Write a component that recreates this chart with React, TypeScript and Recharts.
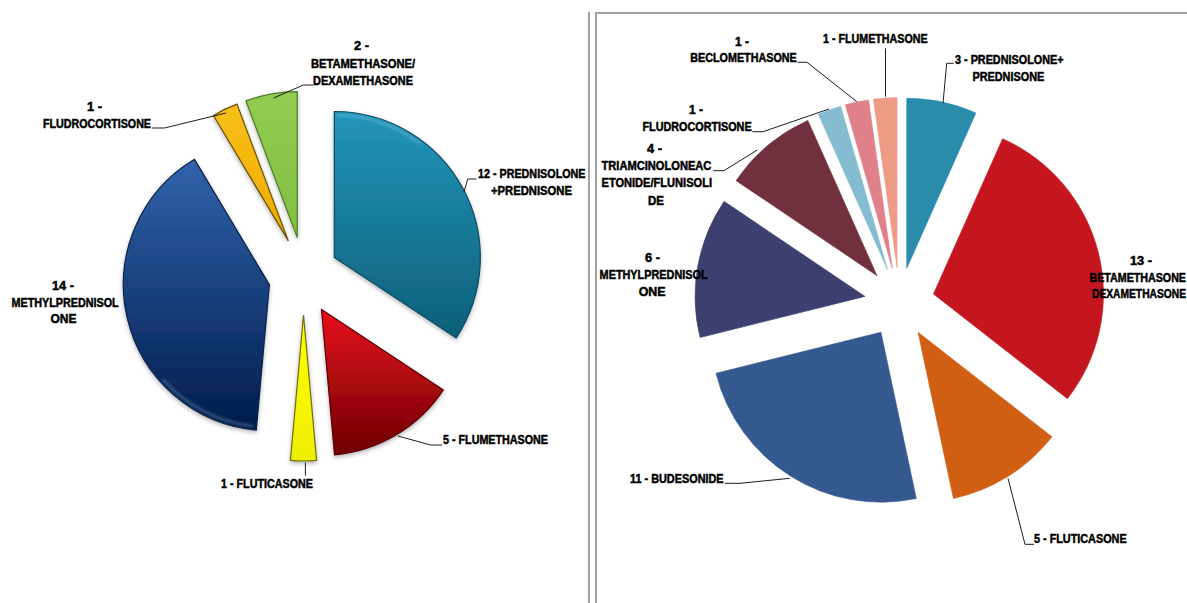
import React from "react";
import { PieChart, Pie, Sector } from "recharts";

// Corticosteroid prescriptions, first panel
const leftDrugs = ["PREDNISOLONE+PREDNISONE", "FLUMETHASONE", "FLUTICASONE", "METHYLPREDNISOLONE", "FLUDROCORTISONE", "BETAMETHASONE/DEXAMETHASONE"];
const leftCounts = [12, 5, 1, 14, 1, 2];
const leftTop = ["#2295ba", "#e8101e", "#ffff00", "#3163ac", "#f8c018", "#92cc50"];
const leftBottom = ["#0d5f78", "#6e0000", "#eeee00", "#001c4c", "#eeaa00", "#80c040"];
const leftEdge = ["#0b4a5e", "#5a0008", "#6e6e10", "#0a2248", "#6a5008", "#4e7a28"];

// Corticosteroid prescriptions, second panel
const rightDrugs = ["PREDNISOLONE+PREDNISONE", "BETAMETHASONE/DEXAMETHASONE", "FLUTICASONE", "BUDESONIDE", "METHYLPREDNISOLONE", "TRIAMCINOLONEACETONIDE/FLUNISOLIDE", "FLUDROCORTISONE", "BECLOMETHASONE", "FLUMETHASONE"];
const rightCounts = [3, 13, 5, 11, 6, 4, 1, 1, 1];
const rightFill = ["#2a8cab", "#c5161f", "#d05f14", "#34598f", "#3d3f6e", "#70303e", "#86bcd2", "#e08088", "#ee9b85"];

type Line = [string, number, number, number];
type Callout = { text: Line[]; leader: number[][] };

const TEXT_H = 4;

// Each text row: string, left x, right x, middle y
const leftCallouts: Callout[] = [
  { text: [["12 - PREDNISOLONE", 478, 585.5, 174], ["+PREDNISONE", 491, 572, 191]], leader: [[476.5, 179], [467.7, 179], [464, 192]] },
  { text: [["5 - FLUMETHASONE", 443, 548, 440]], leader: [[442, 445], [430.5, 445], [398, 436]] },
  { text: [["1 - FLUTICASONE", 221, 313, 484]], leader: [[305.4, 475.7], [305.4, 462.7]] },
  { text: [["14 -", 52, 74, 285.7], ["METHYLPREDNISOL", 11.5, 118.6, 303], ["ONE", 50.5, 76.5, 319]], leader: [] },
  { text: [["1 -", 87, 102, 107], ["FLUDROCORTISONE", 43, 151, 124]], leader: [[152, 128], [164.5, 128], [226, 113]] },
  { text: [["2 -", 354, 369, 45.7], ["BETAMETHASONE/", 311, 415, 64], ["DEXAMETHASONE", 313, 413, 80.7]], leader: [[313, 85], [303.5, 85], [273.6, 98]] },
];

const rightCallouts: Callout[] = [
  { text: [["3 - PREDNISOLONE+", 955, 1063.5, 60], ["PREDNISONE", 972.4, 1044.3, 76.7]], leader: [[953.6, 63.3], [946.7, 63.3], [943, 103.3]] },
  { text: [["13 -", 1130, 1152, 261], ["BETAMETHASONE", 1089.5, 1186, 277.7], ["DEXAMETHASONE", 1092, 1186, 294.3]], leader: [] },
  { text: [["5 - FLUTICASONE", 1034, 1126.6, 539.3]], leader: [[1034, 544.3], [1025, 544.3], [1008, 478.3]] },
  { text: [["11 - BUDESONIDE", 630, 723.6, 479]], leader: [[724.8, 483.3], [740, 483.3], [789.8, 478.3]] },
  { text: [["6 -", 645, 660, 258.3], ["METHYLPREDNISOL", 599.6, 707.6, 275.3], ["ONE", 638.7, 665.5, 292]], leader: [] },
  { text: [["4 -", 647, 662, 149.3], ["TRIAMCINOLONEAC", 601.5, 711.4, 166], ["ETONIDE/FLUNISOLI", 601.5, 712, 183], ["DE", 648, 664, 201]], leader: [[713.3, 170.7], [724, 170.7], [757.3, 150]] },
  { text: [["1 -", 689, 703, 110], ["FLUDROCORTISONE", 642.5, 751.6, 126.7]], leader: [[752.3, 131.7], [763, 131.7], [829, 109]] },
  { text: [["1 -", 735, 749, 41.7], ["BECLOMETHASONE", 690.3, 796.7, 58.3]], leader: [[797.5, 62.3], [807, 62.3], [856.8, 101.7]] },
  { text: [["1 - FLUMETHASONE", 823, 927.6, 39]], leader: [[885.5, 48.3], [885.5, 96.7]] },
];

const leftRows = leftDrugs.map((name, i) => ({ name, value: leftCounts[i], fill: `url(#left-${i})`, stroke: leftEdge[i] }));
const rightRows = rightDrugs.map((name, i) => ({ name, value: rightCounts[i], fill: rightFill[i], stroke: rightFill[i] }));

const RAD = Math.PI / 180;

// Pulls one slice away from the pie centre along its middle angle.
const explodedSlice = (dx: number, dy: number, raised: boolean) => (p: any) => {
  const cx = p.cx + dx * Math.cos(p.midAngle * RAD);
  const cy = p.cy - dy * Math.sin(p.midAngle * RAD);
  const body = (
    <Sector
      cx={cx}
      cy={cy}
      innerRadius={0}
      outerRadius={p.outerRadius}
      startAngle={p.startAngle}
      endAngle={p.endAngle}
      fill={p.fill}
      stroke={p.stroke}
      strokeWidth={raised ? 1.2 : 0.6}
    />
  );
  if (!raised) return body;
  const sweep = p.startAngle - p.endAngle;
  return (
    <g filter="url(#lift)">
      {body}
      {sweep > 60 && (
        <Sector
          cx={cx}
          cy={cy}
          innerRadius={p.outerRadius - 5}
          outerRadius={p.outerRadius - 2}
          startAngle={p.midAngle + sweep * 0.49}
          endAngle={p.midAngle + sweep * 0.2}
          fill="#bfeefa"
          fillOpacity={0.22}
          filter="url(#soften)"
        />
      )}
    </g>
  );
};

const calloutLabel = (items: Callout[]) => (p: any) => {
  const c = items[p.index];
  return (
    <g key={`callout-${p.index}`}>
      {c.leader.length > 0 && (
        <polyline points={c.leader.map((q) => q.join(",")).join(" ")} fill="none" stroke="#1c1c1c" strokeWidth={1} />
      )}
      {c.text.map(([t, x0, x1, y]) => (
        <text
          key={t}
          x={x0}
          y={y + TEXT_H}
          textLength={x1 - x0}
          lengthAdjust="spacingAndGlyphs"
          fontFamily="'Liberation Sans Narrow', 'Liberation Sans', sans-serif"
          fontWeight={700}
          fontSize={12.5}
          fill="#000"
          stroke="#000"
          strokeWidth={0.5}
        >
          {t}
        </text>
      ))}
    </g>
  );
};

const rule = (left: number, top: number, width: number, height: number): React.CSSProperties => ({
  position: "absolute",
  left,
  top,
  width,
  height,
  background: "#a2a2a2",
});

export default function App() {
  return (
    <div style={{ position: "absolute", left: 0, top: 0, width: 1187, height: 603, overflow: "hidden", background: "#fff" }}>
      <div style={rule(588, 12, 2, 591)} />
      <div style={rule(595, 12, 2, 591)} />
      <div style={rule(595, 12, 592, 2)} />
      <div style={{ position: "absolute", left: 0, top: 0 }}>
        <PieChart width={1187} height={603} margin={{ top: 0, right: 0, bottom: 0, left: 0 }}>
          <defs>
            {leftTop.map((c, i) => (
              <linearGradient key={c} id={`left-${i}`} x1="0" y1="0" x2="0" y2="1">
                <stop offset="0" stopColor={c} />
                <stop offset="1" stopColor={leftBottom[i]} />
              </linearGradient>
            ))}
            <filter id="lift" x="-20%" y="-20%" width="140%" height="140%">
              <feDropShadow dx="0" dy="2" stdDeviation="2" floodColor="#000" floodOpacity="0.3" />
            </filter>
            <filter id="soften" x="-10%" y="-10%" width="120%" height="120%">
              <feGaussianBlur stdDeviation="0.8" />
            </filter>
          </defs>
          <Pie
            data={leftRows}
            dataKey="value"
            nameKey="name"
            cx={303.5}
            cy={276}
            innerRadius={0}
            outerRadius={146}
            startAngle={90}
            endAngle={-270}
            paddingAngle={0}
            isAnimationActive={false}
            shape={explodedSlice(35, 39, true)}
            label={calloutLabel(leftCallouts)}
            labelLine={false}
            rootTabIndex={-1}
          />
          <Pie
            data={rightRows}
            dataKey="value"
            nameKey="name"
            cx={899.5}
            cy={302.5}
            innerRadius={0}
            outerRadius={170}
            startAngle={90}
            endAngle={-270}
            paddingAngle={0}
            isAnimationActive={false}
            shape={explodedSlice(35, 35, false)}
            label={calloutLabel(rightCallouts)}
            labelLine={false}
            rootTabIndex={-1}
          />
        </PieChart>
      </div>
    </div>
  );
}
